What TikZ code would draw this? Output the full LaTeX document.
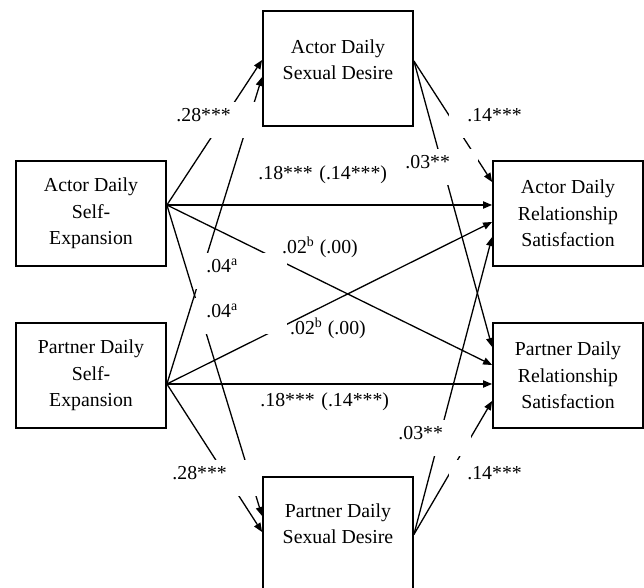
\documentclass[tikz,border=0pt]{standalone}
\usepackage{fontspec}
\setmainfont{Liberation Serif}
\usepackage{tikz}
\usetikzlibrary{calc,arrows.meta}

\tikzset{
  var/.style={draw, line width=0.9pt, minimum width=75pt, minimum height=52.5pt,
    inner sep=0pt, align=center},
  vartext/.style={inner sep=0pt, align=center},
  effect/.style={-{Triangle[length=4.5pt,width=3.6pt]}, line width=0.65pt},
  coef/.style={fill=white, inner sep=0pt, anchor=north west, text height=9.75pt,
    text depth=8.25pt, text width=#1, align=left},
  coef/.default=46pt,
  coefb/.style={inner sep=0pt}
}

\begin{document}
\begin{tikzpicture}[x=0.5pt, y=0.5pt, font=\fontsize{9.9pt}{13.25pt}\selectfont]
    \useasboundingbox (0,0) rectangle (644,-588);
    \clip (0,0) rectangle (644,-588);

    % Variables
    \node[var, minimum height=57.5pt] (asd) at (338,-68.5) {};
    \node[vartext] (asdtxt) at (338,-59.5) {Actor Daily\\Sexual Desire};
    \node[var, minimum height=57.5pt] (psd) at (338,-534.5) {};
    \node[vartext] (psdtxt) at (338,-523.5) {Partner Daily\\Sexual Desire};
    \node[var] (ase) at (91,-213.5) {Actor Daily\\Self-\\Expansion};
    \node[var] (pse) at (91,-375.5) {Partner Daily\\Self-\\Expansion};
    \node[var] (ars) at (568,-213.5) {Actor Daily\\Relationship\\Satisfaction};
    \node[var] (prs) at (568,-375.5) {Partner Daily\\Relationship\\Satisfaction};

    % Paths from self-expansion
    \draw[effect] ($(ase.east)+(0,8.5)$) -- ($(asd.west)+(0,8.5)$);
    \draw[effect] ($(ase.east)+(0,8.5)$) -- ($(ars.west)+(0,8.5)$);
    \draw[effect] ($(ase.east)+(0,8.5)$) -- ($(prs.west)+(0,10.5)$);
    \draw[effect] ($(ase.east)+(0,8.5)$) -- ($(psd.west)+(0,18.5)$);
    \draw[effect] ($(pse.east)+(0,-8.5)$) -- ($(asd.west)+(0,-8.5)$);
    \draw[effect] ($(pse.east)+(0,-8.5)$) -- ($(ars.west)+(0,-8.5)$);
    \draw[effect] ($(pse.east)+(0,-8.5)$) -- ($(prs.west)+(0,-8.5)$);
    \draw[effect] ($(pse.east)+(0,-8.5)$) -- ($(psd.west)+(0,2.5)$);

    % Paths from sexual desire
    \draw[effect] ($(asd.east)+(0,7.5)$) -- ($(ars.west)+(0,31.5)$);
    \draw[effect] ($(asd.east)+(0,7.5)$) -- ($(prs.west)+(0,28.5)$);
    \draw[effect] (psd.east) -- ($(ars.west)+(0,-23.5)$);
    \draw[effect] (psd.east) -- ($(prs.west)+(0,-25.5)$);

    % Coefficients
    \node[coef] (c28a) at (169,-102) {\hspace*{3.5pt}.28***};
    \node[coef] (c28b) at (165,-460) {\hspace*{3.5pt}.28***};
    \node[coef=70pt] (c18a) at (251,-160) {\hspace*{3.5pt}.18*** (.14***)};
    \node[coef=70pt] (c18b) at (253,-387) {\hspace*{3.5pt}.18*** (.14***)};
    \node[coef] (c04a) at (195,-253) {\hspace*{5.5pt}.04\textsuperscript{a}};
    \node[coef] (c04b) at (195,-298) {\hspace*{5.5pt}.04\textsuperscript{a}};
    \node[coef] (c14a) at (449,-102) {\hspace*{9pt}.14***};
    \node[coef] (c14b) at (449,-460) {\hspace*{9pt}.14***};
    \node[coef=40pt] (c03a) at (398,-149) {\hspace*{3.5pt}.03**};
    \node[coef=40pt] (c03b) at (391,-420) {\hspace*{3.5pt}.03**};
    \node[coefb] (c02a) at (320,-247) {.02\textsuperscript{b} (.00)};
    \node[coefb] (c02b) at (328,-328) {.02\textsuperscript{b} (.00)};
\end{tikzpicture}
\end{document}
